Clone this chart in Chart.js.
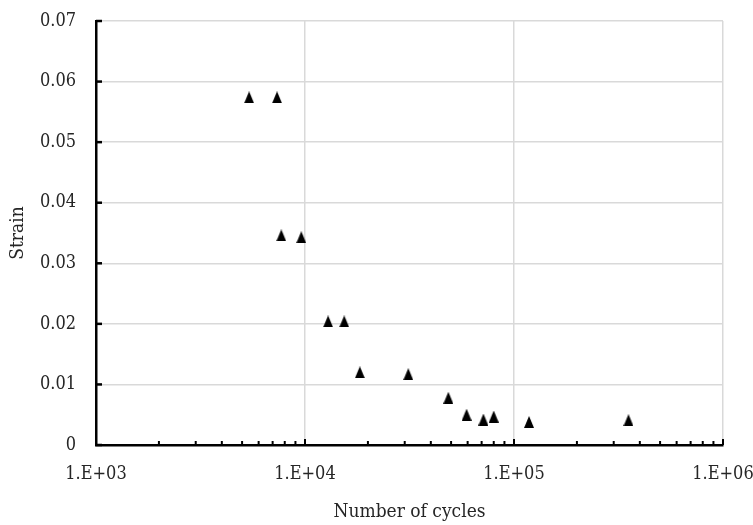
<!DOCTYPE html>
<html>
<head>
<meta charset="utf-8">
<script src="https://cdn.jsdelivr.net/npm/chart.js@4.4.1/dist/chart.umd.min.js"></script>
<style>
  html, body { margin: 0; padding: 0; background: #fff; }
  #chart { display: block; }
</style>
</head>
<body>
<canvas id="chart" width="753" height="525"></canvas>
<script>

// fatigue test results
var cycles = [5400, 7350, 7700, 9600, 12900, 15400, 18300, 31200, 48500, 59300, 71400, 80000, 118000, 353000];
var strain = [0.0574, 0.0574, 0.0346, 0.0343, 0.0204, 0.0204, 0.0120, 0.0117, 0.0078, 0.0050, 0.0042, 0.0047, 0.0038, 0.0041];

var xTitle = 'Number of cycles';
var yTitle = 'Strain';

var serif = "'DejaVu Serif Condensed', 'Liberation Serif', serif";
var textColor = '#262626';
var gridColor = '#d9d9d9';

function isMajor(v) {
	var e = Math.log10(v);
	return Math.abs(e - Math.round(e)) < 1e-9;
}

function mantissa(v) {
	return v / Math.pow(10, Math.floor(Math.log10(v) + 1e-9));
}

// solid up-triangle marker, centred on its own box
var marker = document.createElement('canvas');
marker.width = 10;
marker.height = 12;
var mctx = marker.getContext('2d');
mctx.fillStyle = '#000';
mctx.beginPath();
mctx.moveTo(5, 0);
mctx.lineTo(10, 12);
mctx.lineTo(0, 12);
mctx.closePath();
mctx.fill();

var points = [];
for (var i = 0; i < cycles.length; i++) {
	points.push({x: cycles[i], y: strain[i]});
}

// tick marks pointing into the plot area
var insideTicks = {
	id: 'insideTicks',
	beforeDatasetsDraw: function(chart) {
		var c = chart.ctx;
		var xs = chart.scales.x;
		var ys = chart.scales.y;
		var area = chart.chartArea;
		c.save();
		c.strokeStyle = '#000';
		c.lineWidth = 2.5;
		ys.ticks.forEach(function(t) {
			var py = ys.getPixelForValue(t.value);
			c.beginPath();
			c.moveTo(area.left, py);
			c.lineTo(area.left + 6, py);
			c.stroke();
		});
		c.lineWidth = 2;
		xs.ticks.forEach(function(t) {
			var px = xs.getPixelForValue(t.value);
			var len = isMajor(t.value) ? 6 : 4;
			c.beginPath();
			c.moveTo(px, area.bottom);
			c.lineTo(px, area.bottom - len);
			c.stroke();
		});
		c.restore();
	}
};

var ctx = document.getElementById('chart');
var chart = new Chart(ctx, {
	type: 'scatter',
	data: {
		datasets: [{
			data: points,
			pointStyle: marker,
			pointRadius: 6,
			pointHoverRadius: 6,
			showLine: false
		}]
	},
	options: {
		responsive: false,
		animation: false,
		devicePixelRatio: 1,
		layout: {
			padding: {left: 0, right: 30, top: 21, bottom: 0}
		},
		plugins: {
			legend: {display: false},
			tooltip: {enabled: false}
		},
		scales: {
			x: {
				type: 'logarithmic',
				min: 1000,
				max: 1000000,
				afterBuildTicks: function(scale) {
					scale.ticks = scale.ticks.filter(function(t) {
						var m = mantissa(t.value);
						return Math.abs(m - Math.round(m)) < 1e-6;
					});
				},
				afterFit: function(scale) {
					scale.height = 80;
					scale.paddingLeft = 0;
					scale.paddingRight = 0;
				},
				border: {display: true, color: '#000', width: 2.5},
				grid: {
					drawTicks: false,
					lineWidth: 1.5,
					color: function(c) {
						return c.tick && isMajor(c.tick.value) ? gridColor : 'rgba(0,0,0,0)';
					}
				},
				ticks: {
					autoSkip: false,
					maxRotation: 0,
					minRotation: 0,
					padding: 19,
					color: textColor,
					font: {family: serif, size: 18},
					callback: function(v) {
						if (!isMajor(v)) return '';
						var e = Math.round(Math.log10(v));
						return '1.E+' + (e < 10 ? '0' + e : e);
					}
				},
				title: {
					display: true,
					text: xTitle,
					color: textColor,
					font: {family: serif, size: 19},
					padding: {top: 0, bottom: 2}
				}
			},
			y: {
				min: 0,
				max: 0.07,
				afterFit: function(scale) {
					scale.width = 96;
					scale.paddingTop = 0;
					scale.paddingBottom = 0;
				},
				border: {display: true, color: '#000', width: 2.5},
				grid: {
					drawTicks: false,
					lineWidth: 1.5,
					color: gridColor
				},
				ticks: {
					stepSize: 0.01,
					padding: 20,
					color: textColor,
					font: {family: serif, size: 18},
					callback: function(v) {
						return v === 0 ? '0' : v.toFixed(2);
					}
				},
				title: {
					display: true,
					text: yTitle,
					color: textColor,
					font: {family: serif, size: 19},
					padding: {top: 7, bottom: 0}
				}
			}
		}
	},
	plugins: [insideTicks]
});

</script>
</body>
</html>
